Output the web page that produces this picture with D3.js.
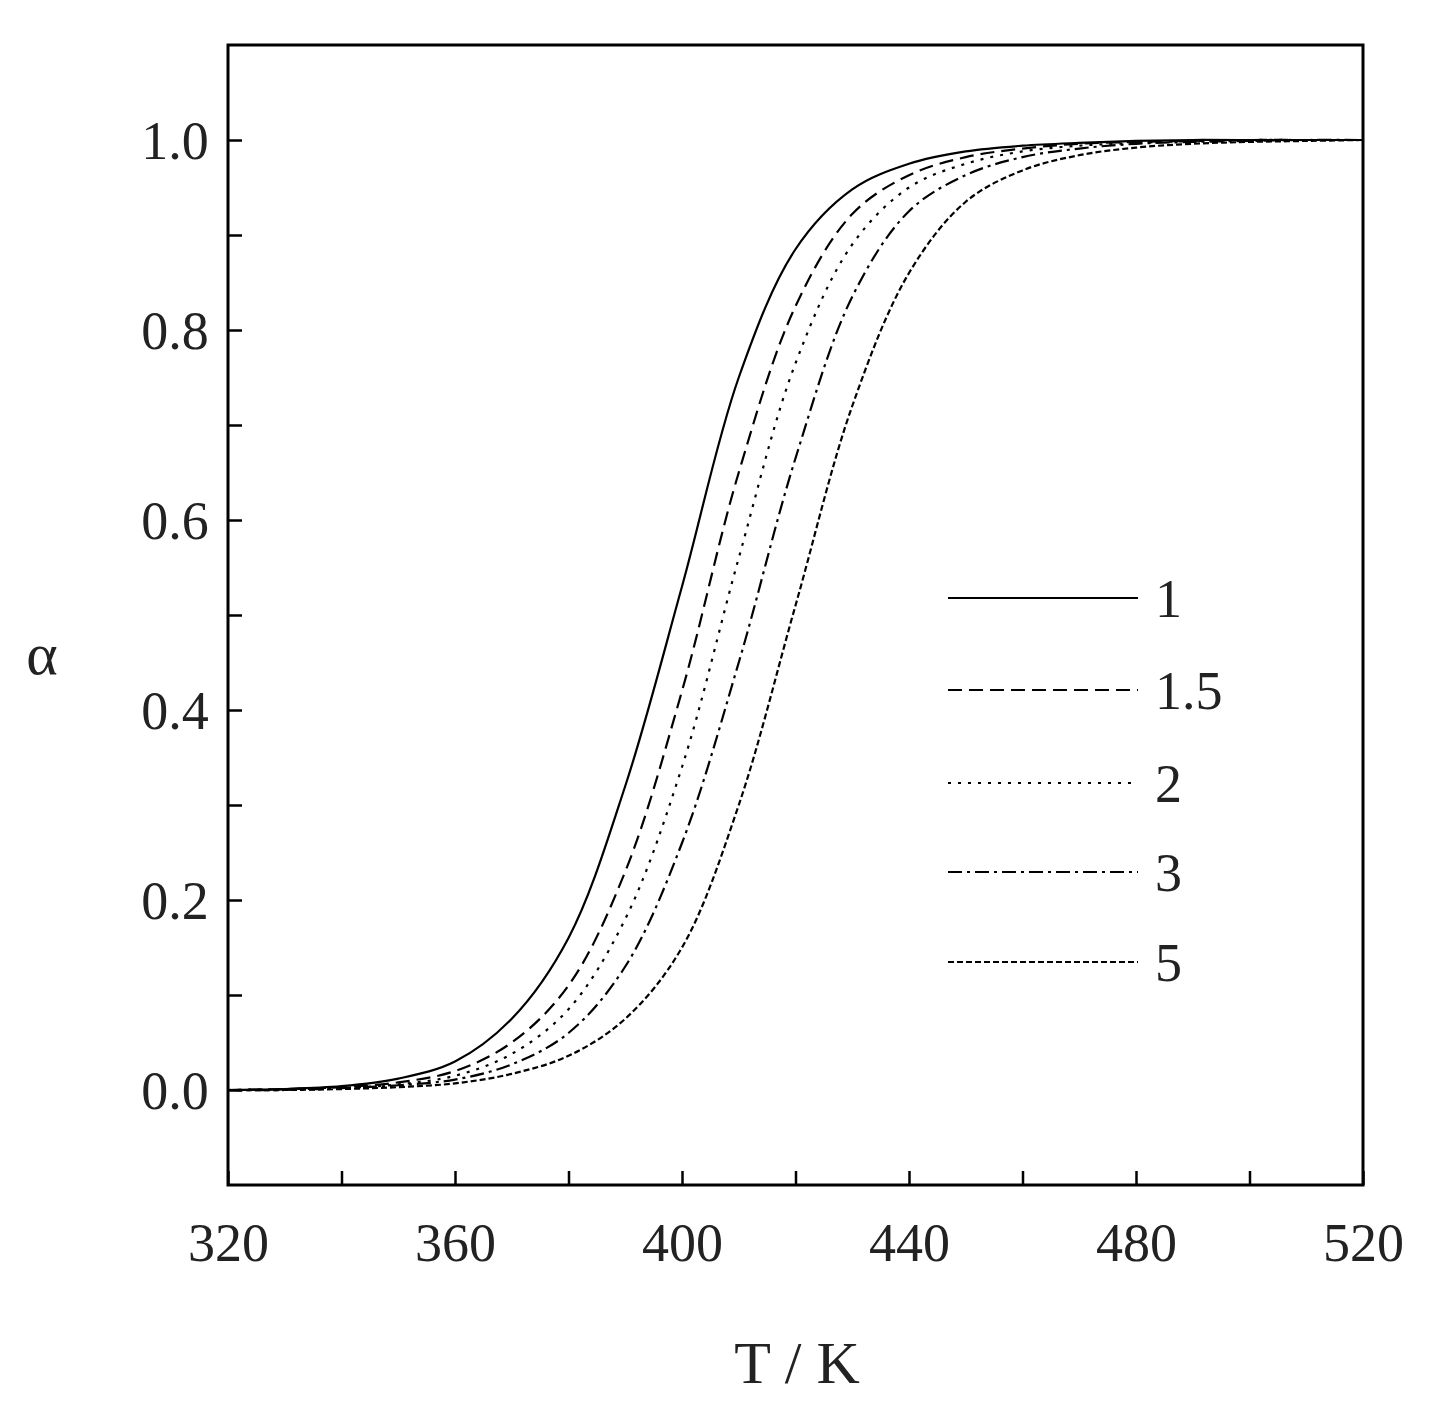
<!DOCTYPE html>
<html><head><meta charset="utf-8">
<script src="https://cdn.jsdelivr.net/npm/d3@7"></script>
<style>body{margin:0;background:#fff}</style></head>
<body><svg id="c" width="1441" height="1417"></svg>
<script>
const temps=[320,330,340,350,360,370,380,390,400,410,420,430,440,450,460,470,480,490,500,510,520];
const s1  =[0,0.001,0.004,0.012,0.03,0.075,0.16,0.32,0.53,0.75,0.885,0.948,0.975,0.988,0.994,0.997,0.999,1,1,1,1];
const s15 =[0,0.001,0.003,0.008,0.02,0.05,0.11,0.23,0.42,0.65,0.825,0.922,0.963,0.982,0.991,0.996,0.998,0.999,1,1,1];
const s2  =[0,0.001,0.002,0.006,0.015,0.038,0.085,0.18,0.34,0.56,0.765,0.89,0.95,0.975,0.988,0.994,0.997,0.999,1,1,1];
const s3  =[0,0,0.002,0.005,0.011,0.027,0.06,0.13,0.26,0.45,0.665,0.835,0.925,0.963,0.982,0.991,0.996,0.998,0.999,1,1];
const s5  =[0,0,0.001,0.003,0.007,0.017,0.036,0.075,0.15,0.30,0.51,0.72,0.86,0.935,0.968,0.984,0.992,0.996,0.998,0.999,1];
const labels=["1","1.5","2","3","5"];
const dashes=["none","14,7","3,7","14,5,3,5","6,3"];
const series=[s1,s15,s2,s3,s5];

const svg=d3.select("#c");
const L=228,R=1363,T=45,B=1185;
const x=d3.scaleLinear().domain([320,520]).range([L,R]);
const y=d3.scaleLinear().domain([-0.1,1.1]).range([B,T]);
const font="'Liberation Serif','DejaVu Serif',serif";
svg.append("rect").attr("x",L).attr("y",T).attr("width",R-L).attr("height",B-T).attr("fill","none").attr("stroke","#000").attr("stroke-width",3);
const xa=svg.append("g").attr("transform",`translate(0,${B})`).call(d3.axisBottom(x).tickValues(d3.range(320,521,20)).tickSize(-14).tickFormat(d=>d%40===0?d:""));
const ya=svg.append("g").attr("transform",`translate(${L},0)`).call(d3.axisLeft(y).tickValues(d3.range(0,1.01,0.1)).tickSize(-14).tickFormat(d=>Math.round(d*10)%2===0?d.toFixed(1):""));
[xa,ya].forEach(a=>{a.select(".domain").remove();a.selectAll("line").attr("stroke","#000").attr("stroke-width",2.5);
 a.selectAll("text").attr("font-family",font).attr("font-size",54).attr("fill","#222");});
xa.selectAll("text").attr("dy","1.35em");
ya.selectAll("text").attr("dx","-0.3em").attr("dy","0.35em");
const line=d3.line().x((d,i)=>x(temps[i])).y(d=>y(d)).curve(d3.curveCatmullRom.alpha(0.5));
series.forEach((s,k)=>svg.append("path").attr("d",line(s)).attr("fill","none").attr("stroke","#000").attr("stroke-width",2.2).attr("stroke-dasharray",dashes[k]));
const ly=[598,690,783,872,962];
labels.forEach((l,k)=>{
 svg.append("line").attr("x1",948).attr("x2",1138).attr("y1",ly[k]).attr("y2",ly[k]).attr("stroke","#000").attr("stroke-width",2.2).attr("stroke-dasharray",dashes[k]);
 svg.append("text").attr("x",1155).attr("y",ly[k]+19).text(l).attr("font-family",font).attr("font-size",54).attr("fill","#222");
});
svg.append("text").attr("x",797).attr("y",1383).attr("text-anchor","middle").text("T / K").attr("font-family",font).attr("font-size",60).attr("fill","#222");
svg.append("text").attr("x",42).attr("y",674).attr("text-anchor","middle").text("α").attr("font-family",font).attr("font-size",60).attr("fill","#222");
</script></body></html>
